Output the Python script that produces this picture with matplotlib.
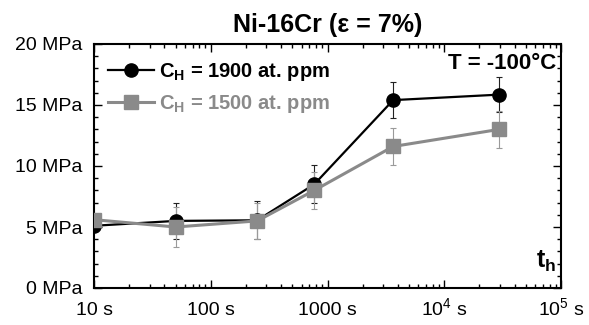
import numpy as np
import matplotlib
matplotlib.use("Agg")
import matplotlib.pyplot as plt
from matplotlib.ticker import FixedLocator, FixedFormatter, LogLocator, MultipleLocator

plt.rcParams['font.family'] = ['Liberation Sans', 'DejaVu Sans']
plt.rcParams['mathtext.fontset'] = 'custom'
plt.rcParams['mathtext.rm'] = 'Liberation Sans'
plt.rcParams['mathtext.bf'] = 'Liberation Sans:bold'
plt.rcParams['mathtext.it'] = 'Liberation Sans:italic'

# hold time (s) and stress values (MPa)
times = [10, 50, 250, 770, 3650, 29500]
stress1900 = [5.1, 5.5, 5.55, 8.5, 15.4, 15.85]
err1900 = [0, 1.5, 1.55, 1.55, 1.5, 1.45]
stress1500 = [5.6, 5.0, 5.5, 8.0, 11.6, 13.0]
err1500 = [0, 1.6, 1.5, 1.5, 1.5, 1.5]

xticks = [10, 100, 1000, 1e4, 1e5]
xlabels = ["10 s", "100 s", "1000 s", r"10$^4$ s", r"10$^5$ s"]
yticks = [0, 5, 10, 15, 20]
ylabels = ["0 MPa", "5 MPa", "10 MPa", "15 MPa", "20 MPa"]

black = "#000000"
gray = "#8a8a8a"

fig = plt.figure(figsize=(5.89, 3.25), dpi=100)
ax = fig.add_axes([94/589, 1 - 288/325, (561 - 94)/589, (288 - 44)/325])

ax.errorbar(times, stress1900, yerr=err1900, fmt='none', ecolor='#222222',
            elinewidth=0.8, capsize=2.5, capthick=0.8, zorder=2)
ax.errorbar(times, stress1500, yerr=err1500, fmt='none', ecolor='#9a9a9a',
            elinewidth=0.8, capsize=2.5, capthick=0.8, zorder=2)
l1, = ax.plot(times, stress1900, '-o', color=black, lw=1.6, ms=9.5,
              label=r"C$_\mathbf{H}$ = 1900 at. ppm", zorder=3)
l2, = ax.plot(times, stress1500, '-s', color=gray, lw=2.2, ms=9.5,
              label=r"C$_\mathbf{H}$ = 1500 at. ppm", zorder=4)

ax.set_xscale('log')
ax.set_xlim(10, 1e5)
ax.set_ylim(0, 20)
ax.xaxis.set_major_locator(FixedLocator(xticks))
ax.xaxis.set_major_formatter(FixedFormatter(xlabels))
ax.xaxis.set_minor_locator(LogLocator(base=10, subs=np.arange(2, 10)))
ax.xaxis.set_minor_formatter(FixedFormatter([]))
ax.yaxis.set_major_locator(FixedLocator(yticks))
ax.yaxis.set_major_formatter(FixedFormatter(ylabels))
ax.yaxis.set_minor_locator(MultipleLocator(1))

ax.tick_params(which='both', direction='in', top=True, right=True,
               width=1.0, color='black')
ax.tick_params(which='major', length=5.5, labelsize=14)
ax.tick_params(which='minor', length=3)
ax.tick_params(axis='x', which='major', pad=19.5)
ax.tick_params(axis='y', which='major', pad=8.5)
for lab in ax.get_xticklabels():
    lab.set_va('baseline')
for sp in ax.spines.values():
    sp.set_linewidth(1.5)

ax.set_title("Ni-16Cr (ε = 7%)", fontsize=18, fontweight='bold', pad=8.5)

leg = ax.legend(handles=[l1, l2], loc='upper left', bbox_to_anchor=(0.03, 0.93),
                frameon=False, prop={'size': 14.5, 'weight': 'bold'},
                labelcolor='linecolor', handlelength=2.3, handletextpad=0.25,
                labelspacing=0.5, borderaxespad=0, borderpad=0)

ax.text(0.989, 0.965, "T = -100°C", transform=ax.transAxes, ha='right',
        va='top', fontsize=16, fontweight='bold')
ax.text(0.989, 0.082, r"t$_\mathbf{h}$", transform=ax.transAxes, ha='right',
        va='baseline', fontsize=18, fontweight='bold')

fig.savefig("out.png", dpi=100)
